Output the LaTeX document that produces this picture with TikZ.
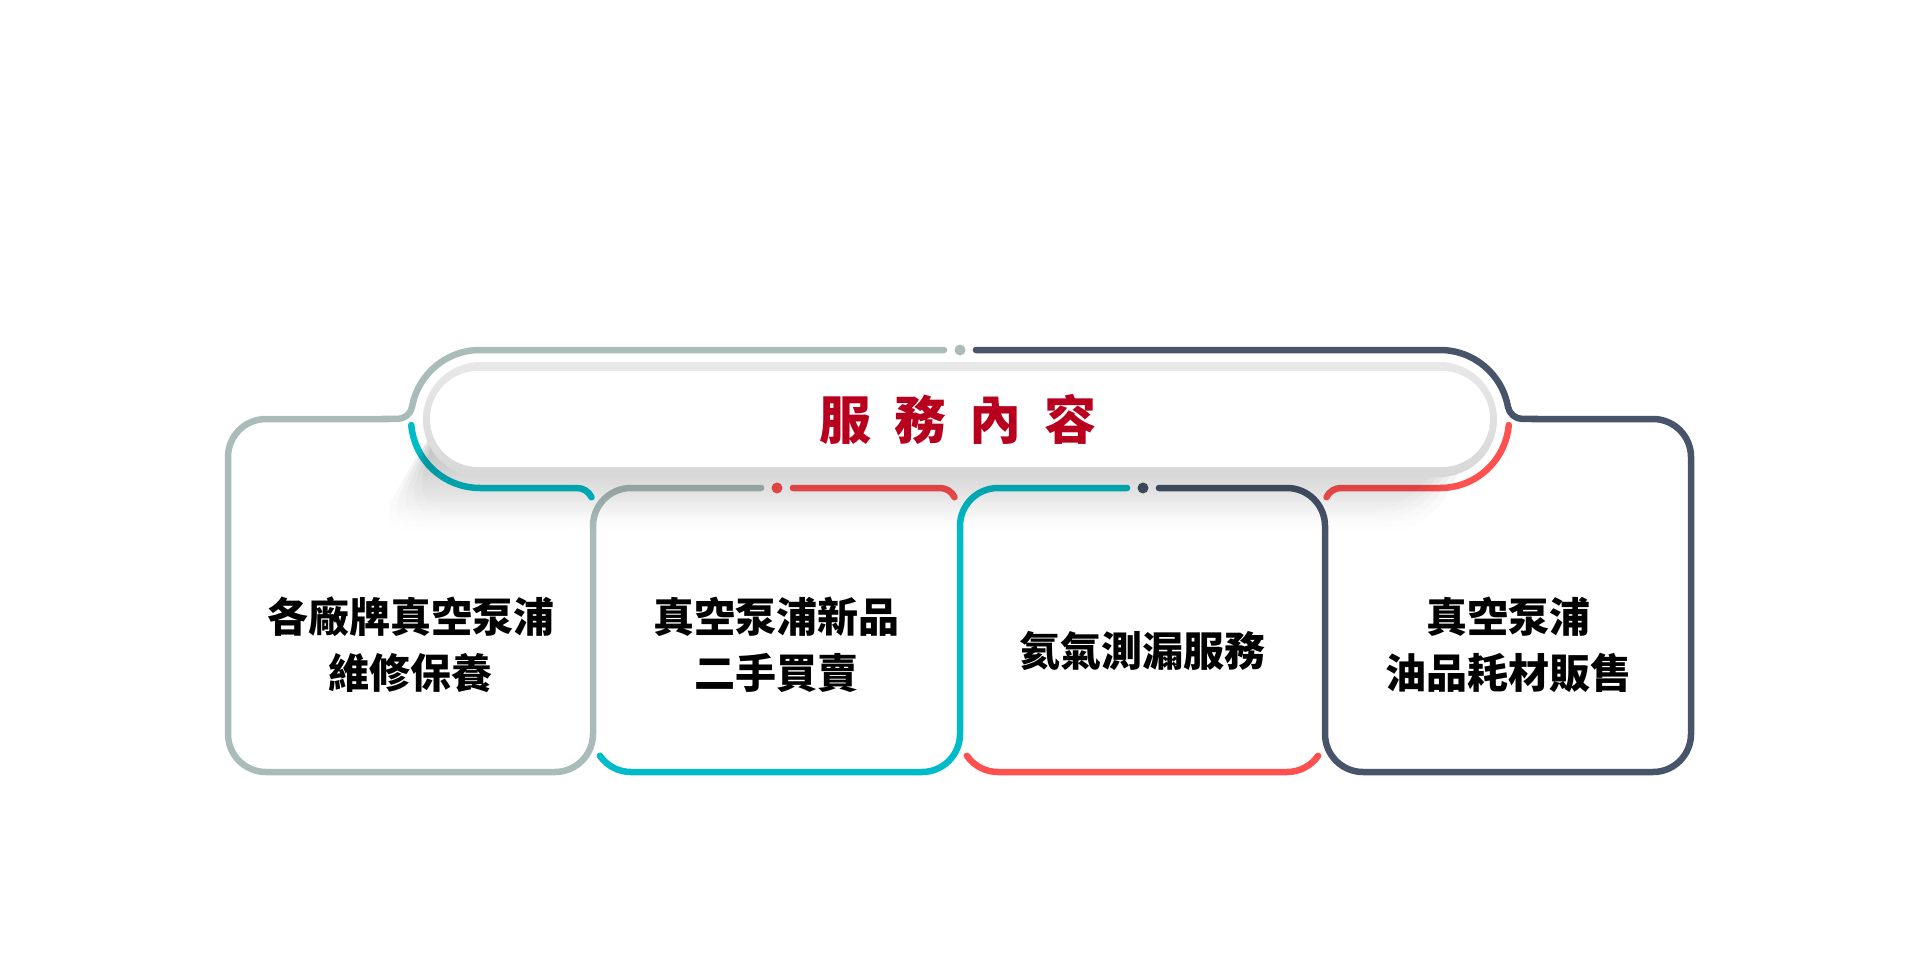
\documentclass[tikz,border=0pt]{standalone}
\usepackage{fontspec}
\usepackage{tikz}
\usetikzlibrary{fadings}
\newfontfamily\cjk{Noto Sans CJK TC}

\definecolor{lineGray}{HTML}{A9BCBA}
\definecolor{lineTeal}{HTML}{00BCC8}
\definecolor{lineRed}{HTML}{FF5050}
\definecolor{lineDark}{HTML}{48546A}
\definecolor{titleRed}{HTML}{B8001E}
\definecolor{ringGray}{HTML}{E8E8E8}
\definecolor{ringShade}{HTML}{D8D8D8}

\tikzfading[name=shadowfade, top color=transparent!0, bottom color=transparent!100]

\tikzset{
  frame/.style={line width=3.25pt, line cap=round, line join=round},
  joint/.style={circle, inner sep=0pt, minimum size=5.5pt},
  boxtext/.style={font=\cjk\bfseries\fontsize{20.5}{28}\selectfont, align=center, text=black},
  titletext/.style={font=\cjk\bfseries\fontsize{26}{30}\selectfont, text=titleRed},
}

\begin{document}
\begin{tikzpicture}[x=0.5pt, y=0.5pt]
      \useasboundingbox (0,0) rectangle (1920,955);
      % Define nodes
      \node[joint, fill=lineGray] (topjoint) at (960,605) {};
      \node[joint, fill=lineRed]  (redjoint) at (777,467) {};
      \node[joint, fill=lineDark] (darkjoint) at (1143,467) {};
      \coordinate (capL) at (480,536);
      \coordinate (capR) at (1440,536);
      % Frame lines
      \draw[frame, lineGray] ([xshift=-5pt]topjoint.west) -- (480,605)
        arc[start angle=90, end angle=169.71, radius=69]
        arc[start angle=-10.29, end angle=-90, radius=15]
        [rounded corners=19pt] -- (228,536) -- (228,183) -- (593,183) -- (593,467)
        -- ([xshift=-5pt]redjoint.west);
      \draw[frame, lineTeal] (capL) ++(185:69) arc[start angle=185, end angle=270, radius=69]
        -- (577,467) arc[start angle=90, end angle=25, radius=16];
      \draw[frame, lineTeal] (631,221) ++(215:38) arc[start angle=215, end angle=270, radius=38]
        [rounded corners=19pt] -- (960,183) -- (960,467) -- ([xshift=-5pt]darkjoint.west);
      \draw[frame, lineDark] ([xshift=5pt]topjoint.east) -- (1440,605)
        arc[start angle=90, end angle=10.29, radius=69]
        arc[start angle=190.29, end angle=270, radius=15]
        [rounded corners=19pt] -- (1691,536) -- (1691,183) -- (1325,183) -- (1325,467)
        -- ([xshift=5pt]darkjoint.east);
      \draw[frame, lineRed] ([xshift=5pt]redjoint.east) -- (940,467)
        arc[start angle=90, end angle=25, radius=16];
      \draw[frame, lineRed] (998,221) ++(215:38) arc[start angle=215, end angle=270, radius=38]
        -- (1287,183) arc[start angle=270, end angle=325, radius=38];
      \draw[frame, lineRed] (1341,451) ++(155:16) arc[start angle=155, end angle=90, radius=16]
        -- (1440,467) arc[start angle=270, end angle=355, radius=69];
      % Shadow and title capsule
      \foreach \s in {0,10,...,40}
        \fill[black, opacity=0.075, path fading=shadowfade, rounded corners=22pt]
          (440,540) -- (1490-\s*0.3,540) -- (1425-\s*0.6,420+\s*0.5) -- (372+\s,420+\s*0.5) -- cycle;
      \shade[rounded corners=28.75pt, top color=ringGray, bottom color=ringShade]
        (423,478) rectangle (1497,593);
      \fill[white, rounded corners=24pt] (430,488) rectangle (1490,584);
      \node[titletext] (title) at (958,536) {服\hspace{11.5pt}務\hspace{11.5pt}內\hspace{11.5pt}容};
      % Box texts
      \node[boxtext] (repair)  at (410.5,310) {各廠牌真空泵浦\\維修保養};
      \node[boxtext] (newpump) at (776.5,310) {真空泵浦新品\\二手買賣};
      \node[boxtext] (leak)    at (1142.5,304) {氦氣測漏服務};
      \node[boxtext] (supply)  at (1508,310) {真空泵浦\\油品耗材販售};
    \end{tikzpicture}
\end{document}
